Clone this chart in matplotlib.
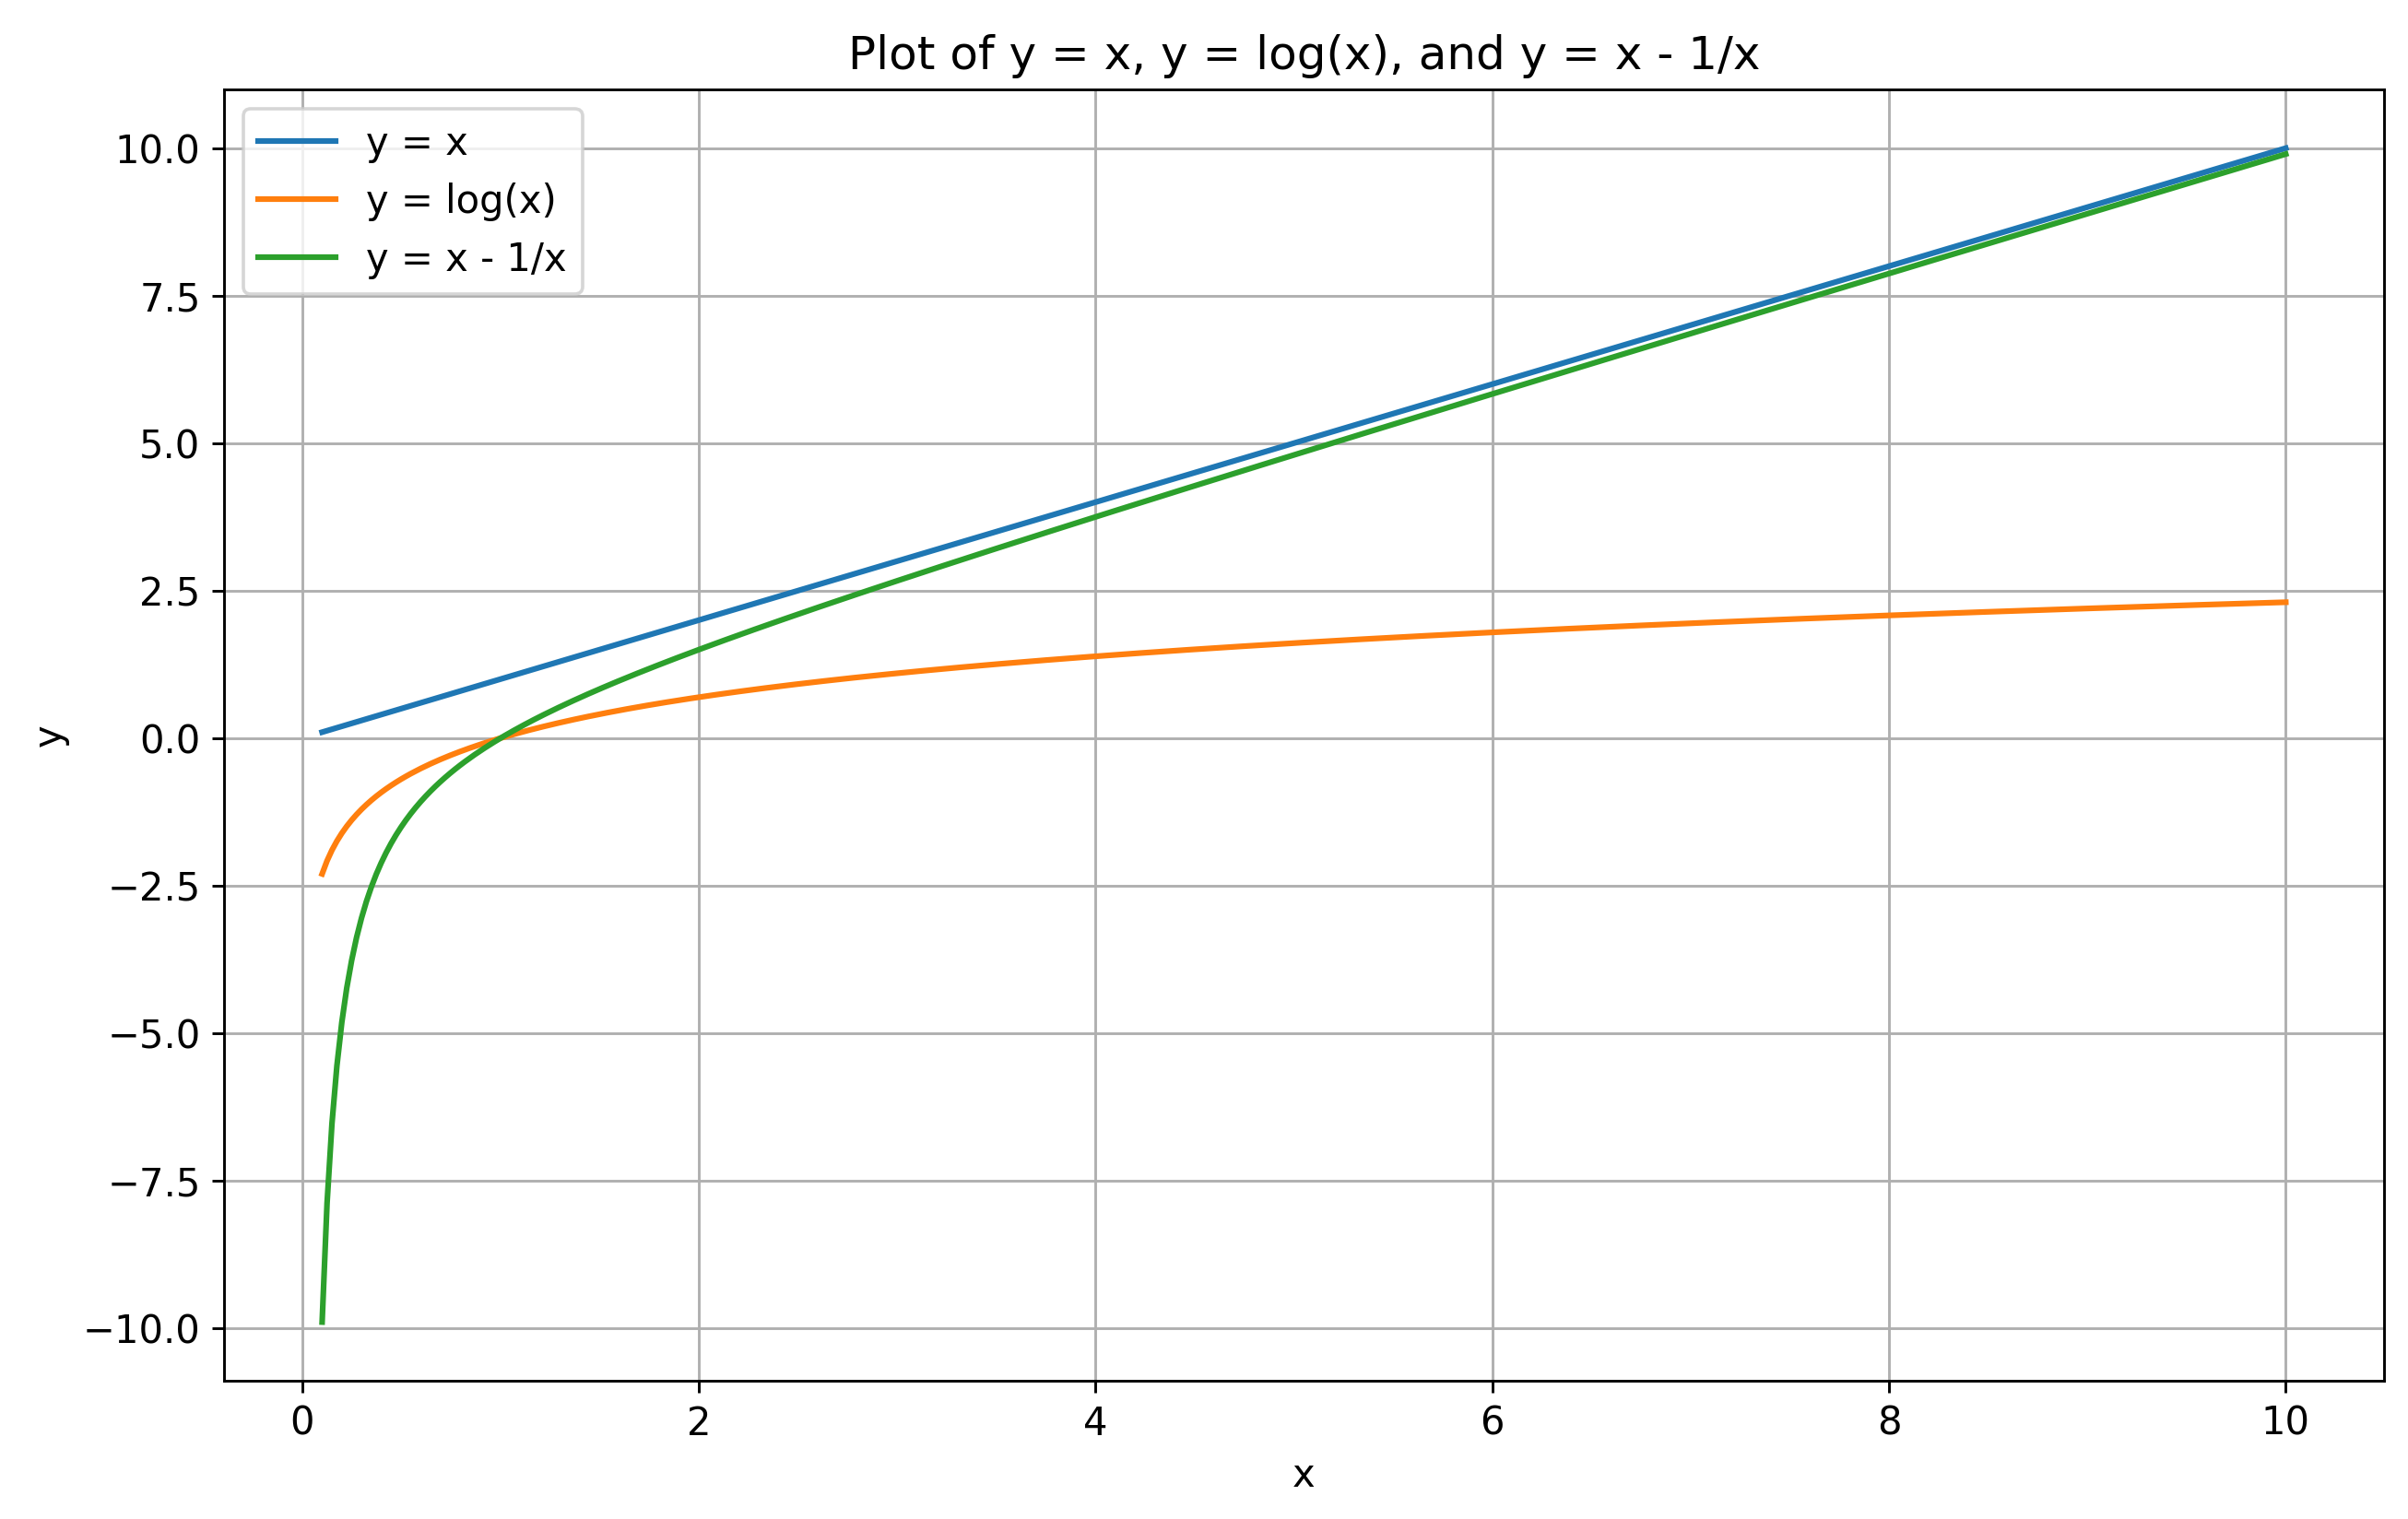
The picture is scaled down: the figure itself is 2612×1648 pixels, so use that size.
import numpy as np
import matplotlib
matplotlib.use("Agg")
import matplotlib.pyplot as plt

x_start, x_end, n_points = 0.1, 10, 400
labels = ["y = x", "y = log(x)", "y = x - 1/x"]
title = "Plot of y = x, y = log(x), and y = x - 1/x"

x = np.linspace(x_start, x_end, n_points)
y_lin = x
y_log = np.log(x)
y_diff = x - 1 / x

plt.rcParams["font.size"] = 11.5
plt.rcParams["lines.linewidth"] = 1.7
fig = plt.figure(figsize=(10, 6.31), dpi=261.2)
ax = fig.add_axes([0.093, 0.091, 0.897, 0.850])
ax.plot(x, y_lin, label=labels[0])
ax.plot(x, y_log, label=labels[1])
ax.plot(x, y_diff, label=labels[2])
ax.set_title(title)
ax.set_xlabel("x")
ax.set_ylabel("y")
ax.grid(True)
ax.legend(loc="upper left")
fig.savefig("out.png")
